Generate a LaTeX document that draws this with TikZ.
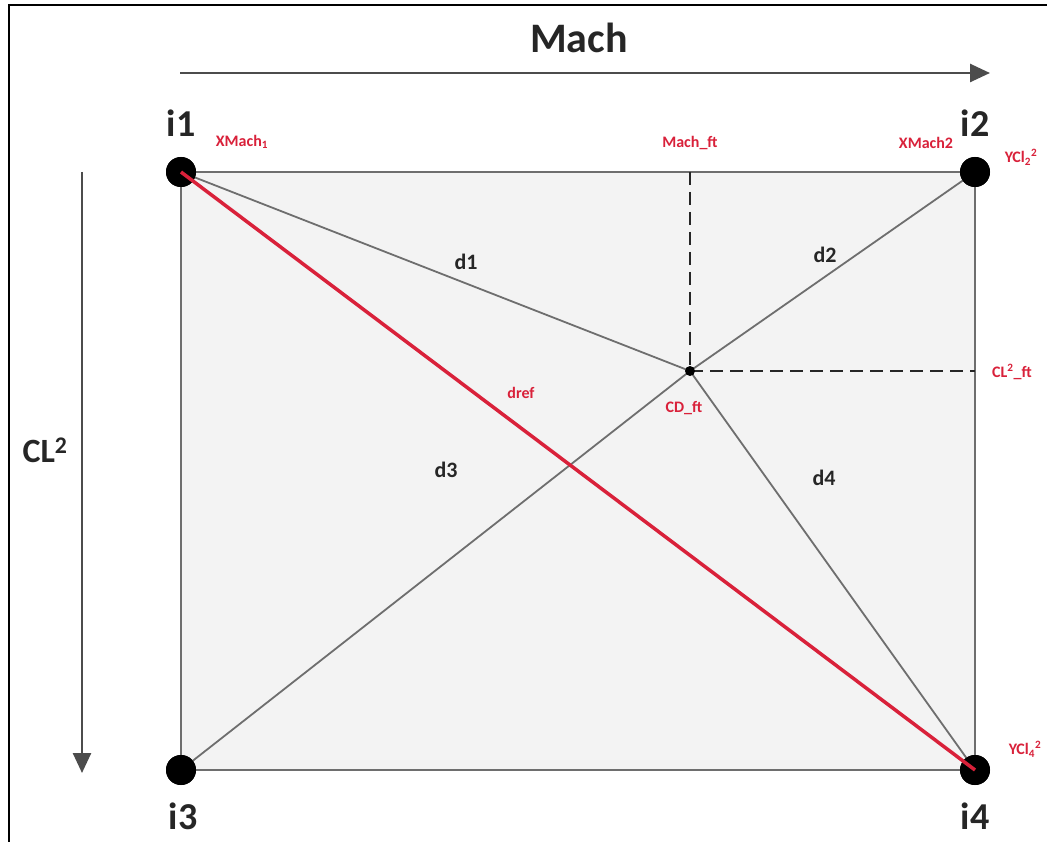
\documentclass[tikz,border=0pt]{standalone}
\usepackage{fontspec}
\setmainfont{Carlito}
\usetikzlibrary{arrows.meta}
\definecolor{redtxt}{HTML}{D9213A}
\definecolor{edgegray}{HTML}{6E6E6E}
\definecolor{panel}{HTML}{F3F3F3}
\tikzset{
  vertex/.style={circle,fill=black,minimum size=30pt,inner sep=0pt},
  bigl/.style={font=\bfseries\fontsize{38}{40}\selectfont,text=black!85},
  redl/.style={font=\bfseries\fontsize{16}{18}\selectfont,text=redtxt},
  dl/.style={font=\bfseries\fontsize{22}{24}\selectfont,text=black!85},
  edge/.style={draw=edgegray,line width=1.8pt},
  axisarrow/.style={draw=black!70,line width=2.6pt,-{Triangle[length=20pt,width=18pt]}},
  dashline/.style={draw=black!85,line width=2pt,dash pattern=on 13pt off 7pt}
}
\begin{document}
\begin{tikzpicture}[x=1pt,y=-1pt]
\useasboundingbox (0,0) rectangle (1047,842);
\fill[white] (0,0) rectangle (1047,842);
\draw[black,line width=2pt] (9,842) -- (9,5) -- (1047,5);
% panel
\fill[panel] (181,172) rectangle (975,770);
\draw[edge] (181,172) rectangle (975,770);
% nodes
\coordinate (p) at (690,371);
\coordinate (mft) at (690,172);
\coordinate (clft) at (975,371);
\node[vertex] (i1) at (181,172) {};
\node[vertex] (i2) at (975,172) {};
\node[vertex] (i3) at (181,770) {};
\node[vertex] (i4) at (975,770) {};
% dashed
\draw[dashline] (mft) -- (p);
\draw[dashline] (p) -- (clft);
% distances
\draw[edge] (i1.center) -- (p);
\draw[edge] (i2.center) -- (p);
\draw[edge] (i3.center) -- (p);
\draw[edge] (i4.center) -- (p);
\fill[black] (p) circle (5pt);
% redraw vertices on top
\fill (i1) circle (15pt); \fill (i2) circle (15pt); \fill (i3) circle (15pt); \fill (i4) circle (15pt);
\draw[redtxt,line width=3.5pt] (i1.center) -- (i4.center);
% axes
\coordinate (ma) at (180,73);
\coordinate (mb) at (990,73);
\draw[axisarrow] (ma) -- (mb);
\node[bigl,font=\bfseries\fontsize{42}{44}\selectfont] (mach) at (579,38) {Mach};
\coordinate (ca) at (82,172);
\coordinate (cb) at (82,773);
\draw[axisarrow] (ca) -- (cb);
\node[bigl,font=\bfseries\fontsize{34}{36}\selectfont] (cl) at (45,450) {CL\textsuperscript{2}};
% vertex labels
\node[bigl] (l1) at (181,123) {i1};
\node[bigl] (l2) at (975,123) {i2};
\node[bigl] (l3) at (183,816) {i3};
\node[bigl] (l4) at (975,816) {i4};
% red labels
\node[redl] at (242,142) {XMach\textsubscript{1}};
\node[redl] at (690,143) {Mach\_ft};
\node[redl] at (926,143) {XMach2};
\node[redl] at (1021,157) {YCl\textsubscript{2}\textsuperscript{2}};
\node[redl] at (1012,372) {CL\textsuperscript{2}\_ft};
\node[redl] at (684,408) {CD\_ft};
\node[redl] at (521,393) {dref};
\node[redl] at (1025,749) {YCl\textsubscript{4}\textsuperscript{2}};
% distance labels
\node[dl] at (466,262) {d1};
\node[dl] at (825,255) {d2};
\node[dl] at (446,470) {d3};
\node[dl] at (824,478) {d4};
\end{tikzpicture}
\end{document}
